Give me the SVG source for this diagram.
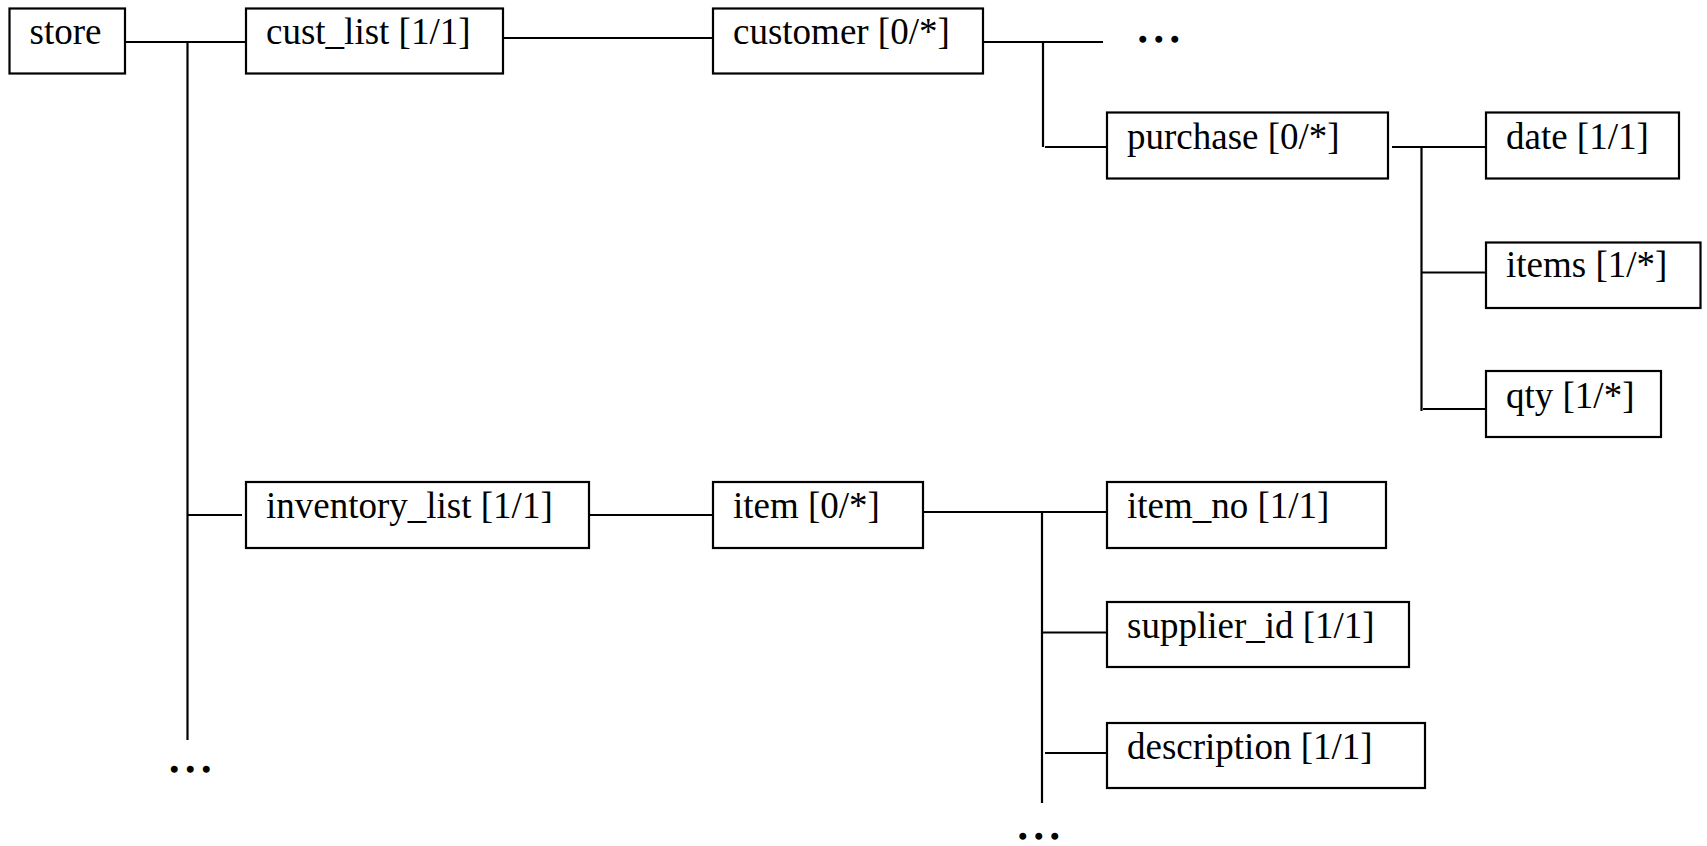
<svg xmlns="http://www.w3.org/2000/svg" width="1707" height="846" viewBox="0 0 1707 846">
  <style>
    .box { fill: #ffffff; stroke: #000000; stroke-width: 2.2; }
    .lbl { font-family: "Liberation Serif", "Times New Roman", "DejaVu Serif", serif; font-size: 37px; fill: #000000; }
    .more { font-family: "Liberation Serif", "Times New Roman", "DejaVu Serif", serif; font-size: 34px; font-weight: bold; letter-spacing: 7.5px; fill: #000000; stroke: #000000; stroke-width: 1.4; }
    .wire { fill: none; stroke: #000000; stroke-width: 2.2; }
  </style>
  <rect width="1707" height="846" fill="#ffffff"/>

  <!-- tree connectors -->
  <g id="connectors" class="wire">
    <path d="M125 42 H246"/>
    <path d="M187.5 42 V740"/>
    <path d="M187.5 515 H242"/>
    <path d="M503 38 H713"/>
    <path d="M983 42 H1103"/>
    <path d="M1043 42 V147"/>
    <path d="M1045 147 H1107"/>
    <path d="M1392 147 H1486"/>
    <path d="M1421.5 147 V411"/>
    <path d="M1421.5 272.5 H1486"/>
    <path d="M1423 409 H1486"/>
    <path d="M589 515 H713"/>
    <path d="M923 512 H1107"/>
    <path d="M1042 512 V803"/>
    <path d="M1042 632.5 H1107"/>
    <path d="M1045 753 H1107"/>
  </g>

  <g id="store">
    <rect class="box" x="9.5" y="8.5" width="115.5" height="65"/>
    <text class="lbl" x="29.5" y="43.5">store</text>
  </g>
  <g id="cust_list">
    <rect class="box" x="246" y="8.5" width="257" height="65"/>
    <text class="lbl" x="266" y="44">cust_list [1/1]</text>
  </g>
  <g id="customer">
    <rect class="box" x="713" y="8.5" width="270" height="65"/>
    <text class="lbl" x="733" y="44">customer [0/*]</text>
  </g>
  <g id="customer_more">
    <text class="more" x="1138.5" y="41.5">...</text>
  </g>
  <g id="purchase">
    <rect class="box" x="1107" y="112.5" width="281" height="66"/>
    <text class="lbl" x="1127" y="148.5">purchase [0/*]</text>
  </g>
  <g id="date">
    <rect class="box" x="1486" y="112.5" width="193" height="66"/>
    <text class="lbl" x="1506" y="148.5">date [1/1]</text>
  </g>
  <g id="items">
    <rect class="box" x="1486" y="242.5" width="214.5" height="65.5"/>
    <text class="lbl" x="1506" y="277">items [1/*]</text>
  </g>
  <g id="qty">
    <rect class="box" x="1486" y="371" width="175" height="66"/>
    <text class="lbl" x="1506" y="408">qty [1/*]</text>
  </g>
  <g id="inventory_list">
    <rect class="box" x="246" y="482" width="343" height="66"/>
    <text class="lbl" x="266" y="518">inventory_list [1/1]</text>
  </g>
  <g id="item">
    <rect class="box" x="713" y="482" width="210" height="66"/>
    <text class="lbl" x="733" y="518">item [0/*]</text>
  </g>
  <g id="item_no">
    <rect class="box" x="1107" y="482" width="279" height="66"/>
    <text class="lbl" x="1127" y="518">item_no [1/1]</text>
  </g>
  <g id="supplier_id">
    <rect class="box" x="1107" y="602" width="302" height="65"/>
    <text class="lbl" x="1127" y="638">supplier_id [1/1]</text>
  </g>
  <g id="description">
    <rect class="box" x="1107" y="723" width="318" height="65"/>
    <text class="lbl" x="1127" y="759">description [1/1]</text>
  </g>
  <g id="item_more">
    <text class="more" x="1018.5" y="838.5">...</text>
  </g>
  <g id="store_more">
    <text class="more" x="170" y="772">...</text>
  </g>
</svg>
